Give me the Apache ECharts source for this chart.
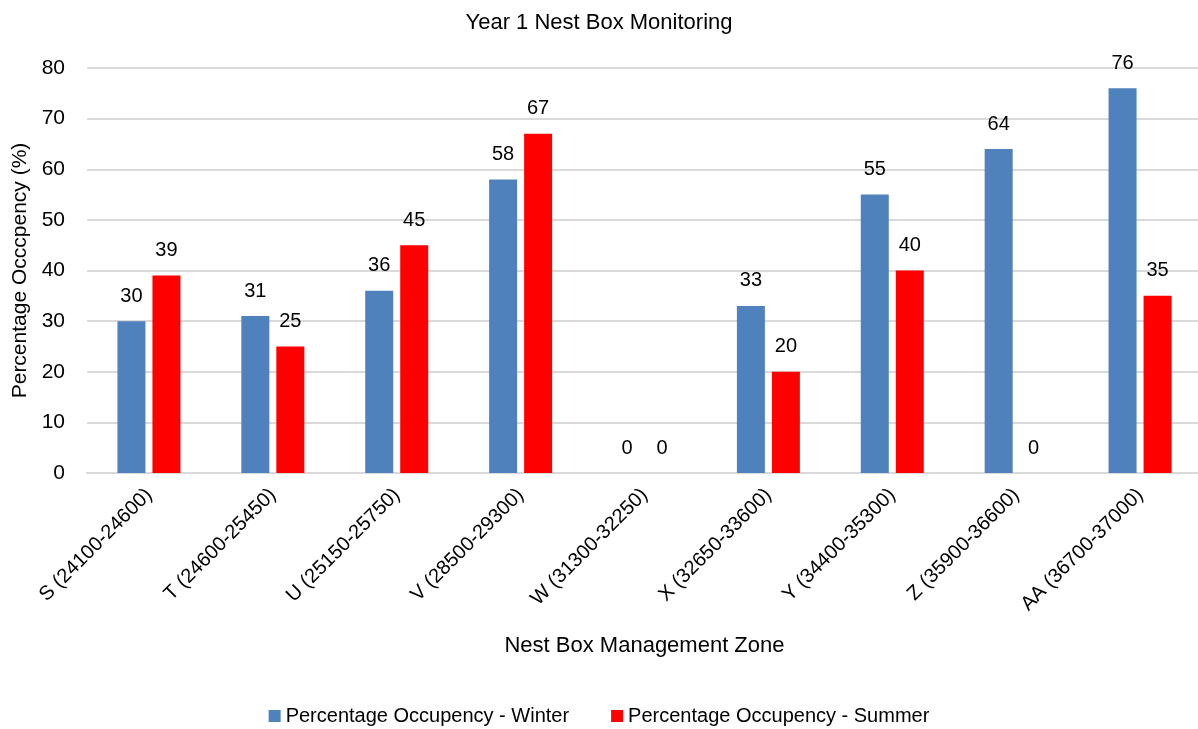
<!DOCTYPE html>
<html>
<head>
<meta charset="utf-8">
<script src="https://cdn.jsdelivr.net/npm/echarts@6/dist/echarts.min.js"></script>
<style>
  html, body { margin: 0; padding: 0; background: #fff; }
  #chart { width: 1198px; height: 729px; }
</style>
</head>
<body>
<div id="chart"></div>
<script>
'use strict';

const zones = ['S (24100-24600)', 'T (24600-25450)', 'U (25150-25750)', 'V (28500-29300)',
  'W (31300-32250)', 'X (32650-33600)', 'Y (34400-35300)', 'Z (35900-36600)', 'AA (36700-37000)'];
const winter = [30, 31, 36, 58, 0, 33, 55, 64, 76];
const summer = [39, 25, 45, 67, 0, 20, 40, 0, 35];
const yTicks = [0, 10, 20, 30, 40, 50, 60, 70, 80];

(function () {
  const font = 'Liberation Sans, Arial, sans-serif';
  const chart = echarts.init(document.querySelector('#chart'));

  const labelStyle = {
    show: true,
    position: 'top',
    distance: 15,
    color: '#000',
    fontSize: 20,
    fontFamily: font
  };

  chart.setOption({
    animation: false,
    textStyle: { fontFamily: font },
    title: {
      text: 'Year 1 Nest Box Monitoring',
      left: 'center',
      top: 7,
      textStyle: { fontSize: 22, fontWeight: 'normal', color: '#000', fontFamily: font }
    },
    legend: {
      top: 701,
      left: 'center',
      itemWidth: 12,
      itemHeight: 12,
      itemGap: 42,
      icon: 'rect',
      textStyle: { fontSize: 20, color: '#000', fontFamily: font },
      data: ['Percentage Occupency - Winter', 'Percentage Occupency - Summer']
    },
    grid: { left: 87, right: -4, top: 68, bottom: 256, outerBoundsMode: 'none' },
    xAxis: {
      type: 'category',
      data: zones,
      name: 'Nest Box Management Zone',
      nameLocation: 'middle',
      nameGap: 162,
      nameTextStyle: { fontSize: 22, color: '#000', fontFamily: font },
      axisLine: { lineStyle: { color: '#d9d9d9', width: 2 } },
      axisTick: { show: false },
      axisLabel: { rotate: 45, fontSize: 20, color: '#000', margin: 19, fontFamily: font }
    },
    yAxis: {
      type: 'value',
      min: yTicks[0],
      max: yTicks[yTicks.length - 1],
      interval: 10,
      name: 'Percentage Occcpency (%)',
      nameLocation: 'middle',
      nameGap: 48,
      nameTextStyle: { fontSize: 21, color: '#000', fontFamily: font },
      axisLine: { show: false },
      axisTick: { show: false },
      axisLabel: { fontSize: 21, color: '#000', margin: 22, fontFamily: font },
      splitLine: { lineStyle: { color: '#d9d9d9', width: 2 } }
    },
    series: [
      {
        name: 'Percentage Occupency - Winter',
        type: 'bar',
        data: winter,
        barWidth: 28,
        barGap: '25%',
        itemStyle: { color: '#4f81bd' },
        label: labelStyle
      },
      {
        name: 'Percentage Occupency - Summer',
        type: 'bar',
        data: summer,
        barWidth: 28,
        itemStyle: { color: '#ff0000' },
        label: labelStyle
      }
    ]
  });

  window.addEventListener('resize', chart.resize);
})();
</script>
</body>
</html>
